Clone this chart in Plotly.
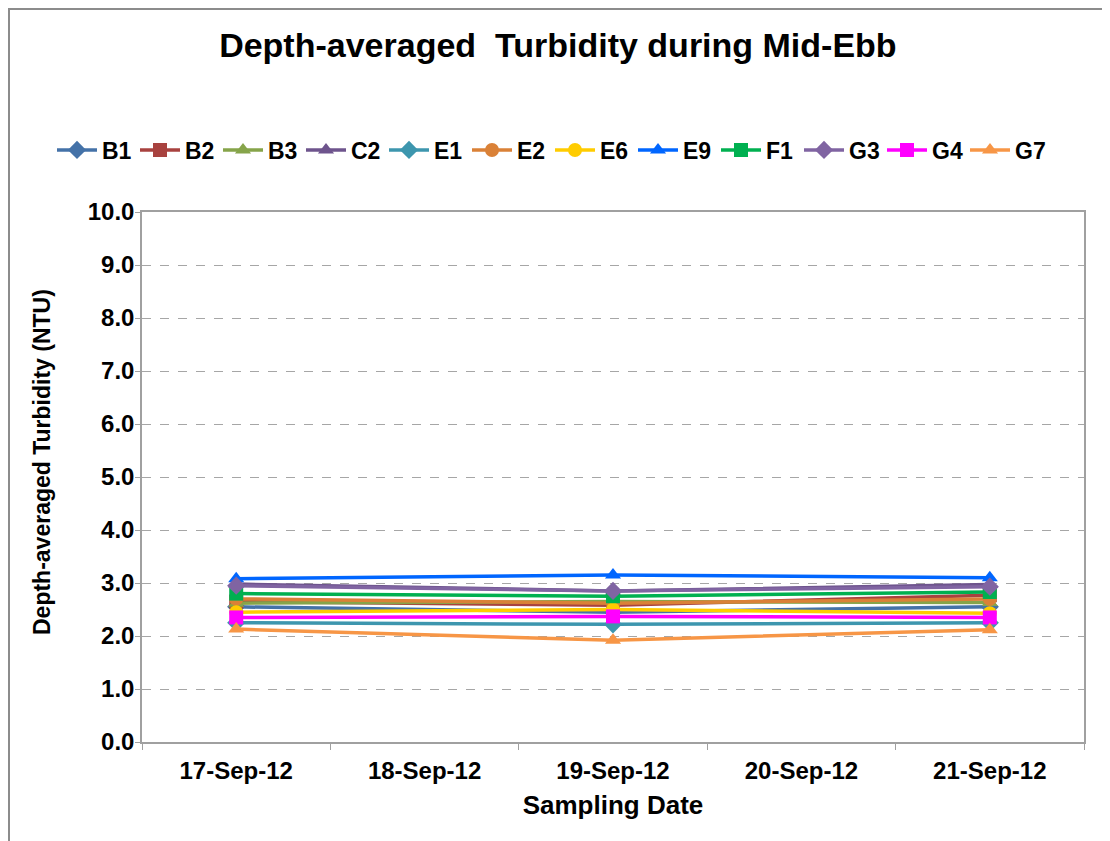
import plotly.graph_objects as go

dates = ["17-Sep-12", "18-Sep-12", "19-Sep-12", "20-Sep-12", "21-Sep-12"]
sample_dates = ["17-Sep-12", "19-Sep-12", "21-Sep-12"]

stations = ["B1", "B2", "B3", "C2", "E1", "E2", "E6", "E9", "F1", "G3", "G4", "G7"]

B1 = [2.55, 2.45, 2.55]
B2 = [2.65, 2.58, 2.77]
B3 = [2.62, 2.65, 2.63]
C2 = [2.98, 2.85, 2.97]
E1 = [2.25, 2.22, 2.25]
E2 = [2.70, 2.62, 2.70]
E6 = [2.45, 2.50, 2.43]
E9 = [3.08, 3.15, 3.10]
F1 = [2.80, 2.75, 2.83]
G3 = [2.95, 2.85, 2.93]
G4 = [2.35, 2.37, 2.35]
G7 = [2.13, 1.92, 2.12]

values = [B1, B2, B3, C2, E1, E2, E6, E9, F1, G3, G4, G7]
colors = ["#4472A8", "#A8423F", "#86A44A", "#6E548D", "#3D96AE", "#DA8137",
          "#FFCC00", "#0066FF", "#00B050", "#8064A2", "#FF00FF", "#F79646"]
symbols = ["diamond", "square", "triangle-up", "triangle-up", "diamond", "circle",
           "circle", "triangle-up", "square", "diamond", "square", "triangle-up"]
y_ticks = [0, 1, 2, 3, 4, 5, 6, 7, 8, 9, 10]

FONT = "Liberation Sans, Arial, sans-serif"

fig = go.Figure()
for name, vals, col, sym in zip(stations, values, colors, symbols):
    fig.add_trace(go.Scatter(
        x=sample_dates, y=vals, name=name, mode="lines+markers",
        line=dict(color=col, width=3.5),
        marker=dict(symbol=sym, size=14, color=col),
    ))

# page body adds an 8px offset, so the figure is 8px smaller on each axis
W, H = 1102, 833
L, R, T, B = 134, 26, 204, 99
pw, ph = W - L - R, H - T - B

def px_x(x):
    return (x - L) / pw

def px_y(y):
    return (H - B - y) / ph

fig.update_layout(
    width=W, height=H,
    margin=dict(l=L, r=R, t=T, b=B),
    paper_bgcolor="white", plot_bgcolor="white",
    font=dict(family=FONT, color="black"),
    title=dict(text="<b>Depth-averaged  Turbidity during Mid-Ebb</b>",
               x=0.499, xref="container", xanchor="center",
               y=1 - 37 / H, yref="container", yanchor="middle",
               font=dict(size=34, family=FONT, color="black")),
    legend=dict(orientation="h", x=px_x(44), xref="paper", xanchor="left",
                y=px_y(142), yref="paper", yanchor="middle",
                font=dict(size=23, family=FONT, color="black", weight="bold"),
                itemwidth=40, entrywidth=28, entrywidthmode="pixels",
                tracegroupgap=0, bgcolor="rgba(0,0,0,0)"),
    xaxis=dict(type="category", categoryorder="array", categoryarray=dates,
               range=[-0.5, 4.5], tickson="boundaries", ticks="outside",
               ticklen=6, tickcolor="#A0A0A0", showline=True, linecolor="#A0A0A0",
               linewidth=1.5, mirror=True, showgrid=False,
               tickfont=dict(size=24, family=FONT, color="black", weight="bold"),
               ticklabelstandoff=6,
               title=dict(text="<b>Sampling Date</b>", standoff=13,
                          font=dict(size=26, family=FONT, color="black"))),
    yaxis=dict(range=[0, 10], tickvals=y_ticks, tickformat=".1f",
               ticks="outside", ticklen=5, tickcolor="#A0A0A0",
               showline=True, linecolor="#A0A0A0", linewidth=1.5, mirror=True,
               showgrid=True, gridcolor="#A6A6A6", griddash="dash", gridwidth=1,
               zeroline=False, ticklabelstandoff=-4,
               tickfont=dict(size=24, family=FONT, color="black", weight="bold")),
    annotations=[dict(text="<b>Depth-averaged Turbidity (NTU)</b>",
                      xref="paper", yref="paper", x=px_x(34), y=px_y(454),
                      xanchor="center", yanchor="middle", textangle=-90,
                      showarrow=False,
                      font=dict(size=23, family=FONT, color="black"))],
    shapes=[dict(type="rect", xref="paper", yref="paper",
                 x0=px_x(1), x1=px_x(1115), y0=px_y(845), y1=px_y(1),
                 line=dict(color="#8C8C8C", width=2), fillcolor="rgba(0,0,0,0)",
                 layer="below")],
)

fig.write_html("out.html")
